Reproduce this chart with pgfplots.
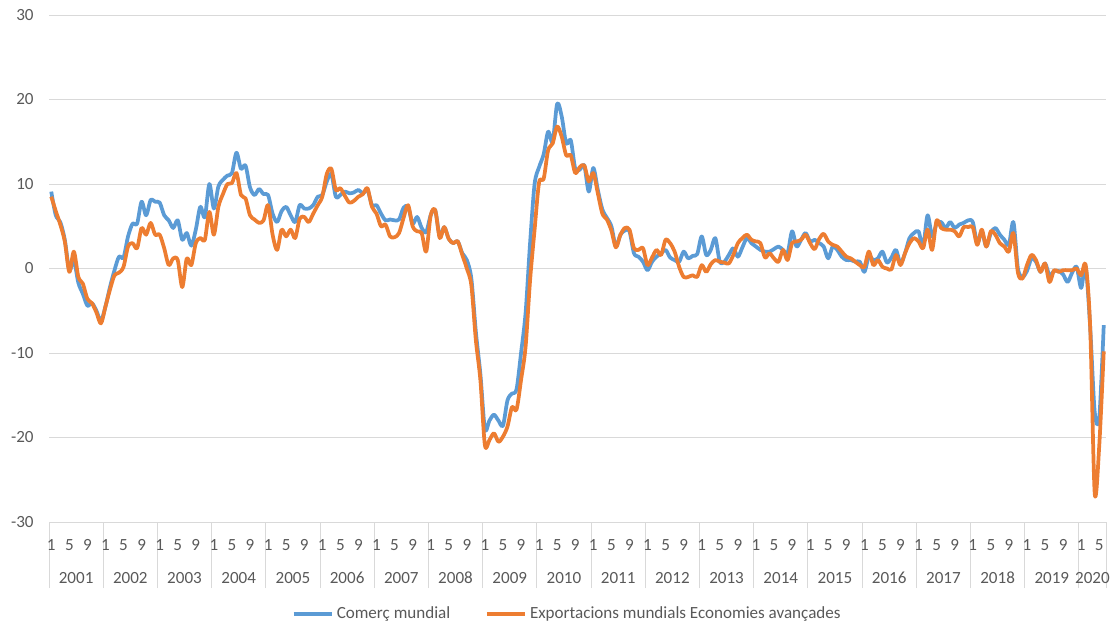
\documentclass[border=0pt]{standalone}
\usepackage{fontspec}
\setmainfont{Carlito}
\usepackage{pgfplots}
\pgfplotsset{compat=1.18}
\usepackage{pgfplotstable}
\definecolor{cblue}{HTML}{5B9BD5}
\definecolor{corange}{HTML}{ED7D31}
\definecolor{cgrid}{HTML}{D9D9D9}
\definecolor{ctext}{HTML}{595959}
\pgfplotstableread{
b o
9.1 8.5
6.3 6.8
5.5 5.2
3.4 3.2
-0.2 -0.4
1.0 2.0
-1.7 -1.0
-3.0 -1.8
-4.4 -3.6
-4.1 -4.1
-5.0 -5.2
-6.2 -6.5
-4.5 -4.5
-2.2 -2.5
-0.2 -0.8
1.4 -0.5
1.3 0.2
3.8 2.6
5.3 3.0
5.3 2.4
7.9 4.8
6.3 4.0
8.1 5.4
7.9 4.0
7.8 4.0
6.3 2.4
5.7 0.4
4.8 1.2
5.7 1.0
3.4 -2.2
4.2 1.2
2.7 0.4
4.6 3.0
7.3 3.6
6.1 3.4
10.0 6.7
7.1 4.0
9.7 7.3
10.5 8.8
11.0 10.0
11.3 10.1
13.7 11.3
11.8 8.7
12.2 8.3
9.6 6.3
8.7 5.8
9.4 5.4
8.8 5.7
8.7 7.5
6.5 4.0
5.5 2.2
6.8 4.6
7.3 3.8
6.3 4.6
5.5 3.6
7.5 5.9
7.1 6.1
7.1 5.5
7.5 6.5
8.5 7.5
8.7 8.5
10.3 11.2
11.2 11.8
8.5 9.3
8.7 9.5
9.1 8.6
8.9 7.8
9.0 8.0
9.3 8.5
8.9 8.8
9.3 9.5
7.5 7.3
7.5 6.5
6.5 5.0
5.7 5.2
5.8 3.8
5.7 3.7
5.8 4.2
7.2 6.0
7.3 7.5
5.3 5.0
6.1 4.4
4.8 4.2
4.3 2.0
6.3 6.3
6.9 6.9
3.8 3.6
4.9 4.9
3.5 3.5
3.0 3.0
3.2 3.2
1.8 1.6
1.0 0.0
-1.2 -2.0
-7.5 -8.5
-12.5 -13.2
-19.0 -20.9
-18.0 -20.3
-17.3 -19.5
-18.0 -20.5
-18.6 -19.9
-15.6 -18.7
-14.8 -16.4
-14.3 -16.7
-10.0 -13.2
-5.3 -9.3
3.0 -1.4
10.0 4.6
12.0 10.2
13.5 10.6
16.2 14.0
15.0 14.8
19.5 16.8
18.0 15.6
14.8 13.4
15.2 13.4
11.8 11.3
11.7 12.0
12.2 12.2
9.1 10.3
11.9 11.3
9.3 8.9
7.0 6.5
6.0 5.8
5.0 4.5
2.6 2.5
4.0 4.0
4.5 4.8
4.4 4.6
1.8 2.4
1.4 2.2
0.8 2.4
-0.2 0.4
0.8 1.3
1.4 2.2
1.8 1.6
2.2 3.4
1.3 3.0
1.0 2.0
0.8 0.2
2.0 -1.0
1.2 -1.0
1.5 -0.8
1.7 -1.0
3.8 0.4
1.6 -0.4
2.2 0.5
3.6 1.0
0.8 0.8
0.8 0.7
1.6 0.6
2.4 1.6
1.4 3.0
2.5 3.6
3.6 4.0
3.0 3.4
2.6 3.2
2.2 3.0
2.0 1.3
2.0 1.8
2.3 1.2
2.6 0.8
2.2 2.2
1.8 1.0
4.4 3.0
2.6 3.2
3.4 3.4
4.2 4.0
3.2 3.0
3.4 2.3
3.0 3.5
2.6 4.1
1.2 3.2
2.6 2.8
2.2 2.6
1.4 2.0
1.0 1.4
1.0 1.2
0.8 0.8
0.8 0.4
-0.4 0.2
1.4 2.0
1.0 0.4
1.2 1.0
2.0 0.2
0.7 0.0
1.3 -0.1
2.2 1.6
0.6 0.4
1.8 1.8
3.6 3.0
4.2 3.6
4.4 3.2
2.6 2.4
6.3 4.6
3.8 2.2
5.3 5.7
5.5 4.8
4.8 4.6
5.5 4.6
4.8 4.4
5.2 3.8
5.4 4.9
5.7 4.9
5.5 4.9
3.0 2.8
4.4 4.6
2.6 2.6
4.2 4.4
4.8 4.0
4.0 3.0
3.4 2.6
2.8 2.0
5.5 4.2
0.0 -0.5
-1.0 -1.2
-0.3 0.4
1.2 1.6
0.8 1.0
-0.4 -0.4
0.6 0.6
-0.8 -1.6
-0.3 -0.2
-0.3 -0.4
-0.7 -0.2
-1.6 -0.2
-0.5 -0.2
0.2 0.0
-2.3 -0.8
0.2 0.4
-7.0 -7.0
-17.0 -26.6
-17.7 -21.0
-6.7 -9.8
}\data
\begin{document}
\begin{tikzpicture}
\path[use as bounding box] (-36.75pt,-78pt) rectangle (798pt,391.5pt);
\begin{axis}[
  at={(0pt,0pt)}, anchor=south west,
  scale only axis, width=792.75pt, height=380.25pt,
  xmin=-0.5, xmax=233.5, ymin=-30, ymax=30,
  ytick={-30,-20,-10,0,10,20,30},
  yticklabels={-30,-20,-10,0,10,20,30},
  xtick={0,4,...,232},
  xticklabels={1,5,9,1,5,9,1,5,9,1,5,9,1,5,9,1,5,9,1,5,9,1,5,9,1,5,9,1,5,9,1,5,9,1,5,9,1,5,9,1,5,9,1,5,9,1,5,9,1,5,9,1,5,9,1,5,9,1,5},
  minor xtick={-0.5,11.5,...,227.5,233.5},
  extra x ticks={5.5,17.5,29.5,41.5,53.5,65.5,77.5,89.5,101.5,113.5,125.5,137.5,149.5,161.5,173.5,185.5,197.5,209.5,221.5,230.5},
  extra x tick labels={2001,2002,2003,2004,2005,2006,2007,2008,2009,2010,2011,2012,2013,2014,2015,2016,2017,2018,2019,2020},
  extra x tick style={major tick length=0pt, xticklabel style={yshift=-24.75pt}},
  major tick length=0pt, minor tick length=49.5pt,
  tick align=outside, tick pos=left,
  every minor tick/.style={draw=cgrid, line width=0.75pt},
  ymajorgrids, grid style={draw=cgrid, line width=0.75pt},
  axis line style={draw=none},
  tick label style={font=\fontsize{12.8}{15}\selectfont, text=ctext},
  xticklabel style={yshift=-9.3pt},
  yticklabel style={xshift=-8pt},
  legend style={at={(0.5,0)}, anchor=center, yshift=-69pt, xshift=-7.5pt, draw=none, fill=none,
    font=\fontsize{12.8}{15}\selectfont, text=ctext,
    /tikz/every even column/.append style={column sep=24pt}},
  legend columns=2,
  legend image code/.code={\draw[#1, line width=2.8pt] (0pt,0pt) -- (29pt,0pt);},
]
\addplot[cblue, line width=2.8pt, smooth, tension=0.5, line join=round] table[x expr=\coordindex, y=b]{\data};
\addlegendentry{Comerç mundial}
\addplot[corange, line width=2.8pt, smooth, tension=0.5, line join=round] table[x expr=\coordindex, y=o]{\data};
\addlegendentry{Exportacions mundials Economies avançades}
\end{axis}
\end{tikzpicture}
\end{document}
